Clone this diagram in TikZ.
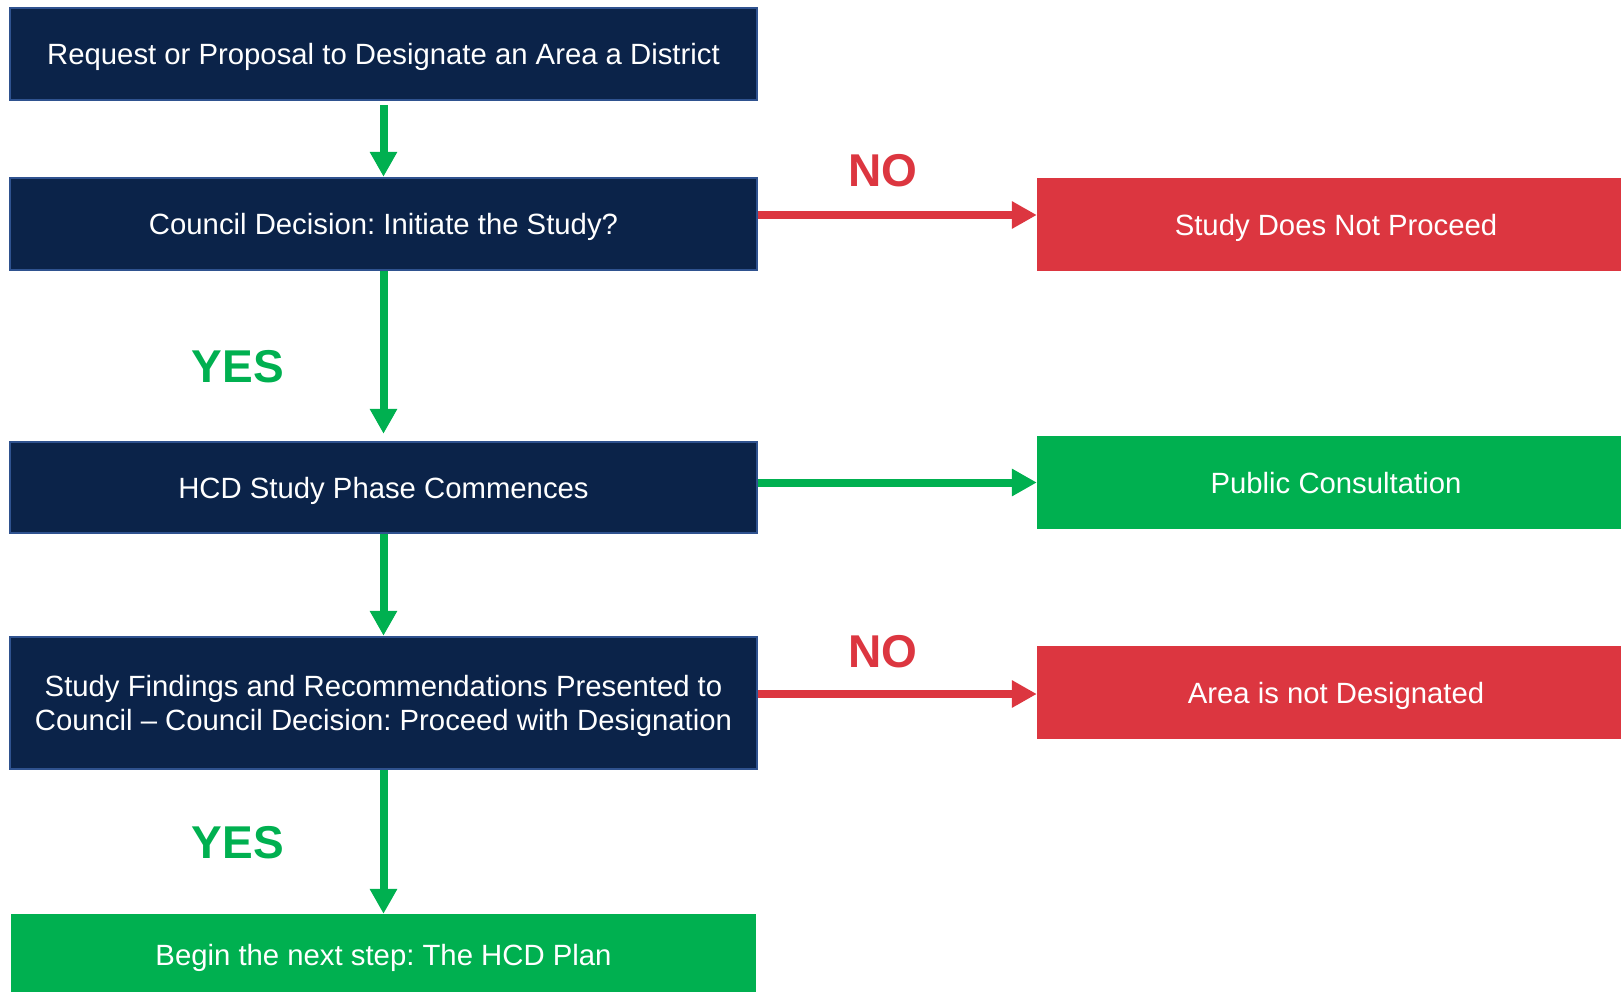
\documentclass[tikz,border=0pt]{standalone}
\usepackage{fontspec}
\setmainfont{Liberation Sans}
\usetikzlibrary{arrows.meta}

\definecolor{navy}{HTML}{0B2349}
\definecolor{navyedge}{HTML}{2F528F}
\definecolor{stopred}{HTML}{DC3640}
\definecolor{gogreen}{HTML}{00B050}

\tikzset{
  stepbox/.style={inner sep=0pt, text=white, align=center, text depth=0pt,
    font=\fontsize{29.3}{34.5}\selectfont},
  darkbox/.style={stepbox, fill=navy, draw=navyedge, line width=2.5pt,
    minimum width=747pt},
  redbox/.style={stepbox, fill=stopred, minimum width=598pt, minimum height=93pt},
  greenbox/.style={stepbox, fill=gogreen},
  yesarrow/.style={draw=gogreen, line width=8pt, -{Triangle[length=25pt,width=26pt]}},
  noarrow/.style={draw=stopred, line width=8pt, -{Triangle[length=25pt,width=26pt]}},
  yeslabel/.style={text=gogreen, font=\fontsize{46}{46}\selectfont\bfseries},
  nolabel/.style={text=stopred, font=\fontsize{46}{46}\selectfont\bfseries}
}
\frenchspacing

\begin{document}
\begin{tikzpicture}[x=1pt, y=-1pt]
      \useasboundingbox (0,0) rectangle (1621,991);

      % left column
      \node[darkbox, minimum height=92pt] (request) at (383.5,54)
        {Request or Proposal to Designate an Area a District};
      \node[darkbox, minimum height=92pt] (initiate) at (383.5,224)
        {Council Decision: Initiate the Study?};
      \node[darkbox, minimum height=91pt] (phase) at (383.5,487.5)
        {HCD Study Phase Commences};
      \node[darkbox, minimum height=132pt] (findings) at (383.5,703)
        {Study Findings and Recommendations Presented to\\
         Council -- Council Decision: Proceed with Designation};
      \node[greenbox, minimum width=745pt, minimum height=82pt] (plan) at (383.5,955)
        {Begin the next step: The HCD Plan};

      % right column
      \node[redbox] (noproceed) at (1336,224.5) {Study Does Not Proceed};
      \node[greenbox, minimum width=598pt, minimum height=93pt] (consult) at (1336,482.5)
        {Public Consultation};
      \node[redbox] (notdesig) at (1336,692.5) {Area is not Designated};

      % downward flow
      \draw[yesarrow, shorten <=4pt] (request.south) -- (initiate.north);
      \draw[yesarrow, shorten >=7pt] (initiate.south) -- (phase.north);
      \draw[yesarrow] (phase.south) -- (findings.north);
      \draw[yesarrow] (findings.south) -- (plan.north);

      % side branches
      \draw[noarrow] ([yshift=9pt]initiate.east) -- ([yshift=9.5pt]noproceed.west);
      \draw[yesarrow] ([yshift=5pt]phase.east) -- (consult.west);
      \draw[noarrow] ([yshift=9pt]findings.east) -- ([yshift=-1.5pt]notdesig.west);

      \node[nolabel] (no1) at (883,171) {NO};
      \node[nolabel] (no2) at (883,652) {NO};
      \node[yeslabel] (yes1) at (238,367) {YES};
      \node[yeslabel] (yes2) at (238,843) {YES};
    \end{tikzpicture}
\end{document}
